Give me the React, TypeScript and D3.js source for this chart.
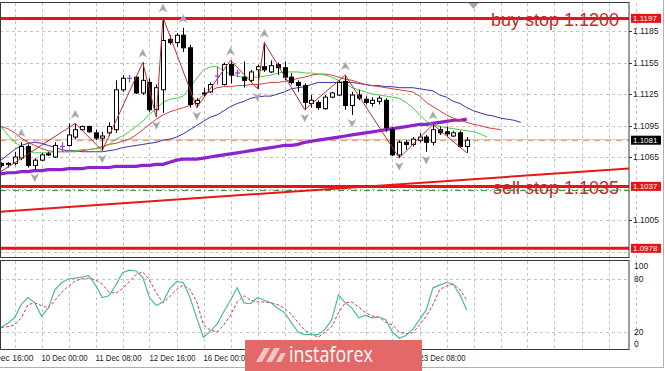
import React from 'react';
import * as d3 from 'd3';

// EURUSD H4 candles (bar 0 = leftmost visible bar)
const opens = [1.1059, 1.1059, 1.1059, 1.1064, 1.1075, 1.1057, 1.1062, 1.1068, 1.1065, 1.1075, 1.1076, 1.1084, 1.1091, 1.1094, 1.1088, 1.1083, 1.1088, 1.1091, 1.1129, 1.1140, 1.1141, 1.1126, 1.1136, 1.1110, 1.1129, 1.1177, 1.1174, 1.1181, 1.1169, 1.1116, 1.1125, 1.1127, 1.1142, 1.1134, 1.1153, 1.1145, 1.1141, 1.1138, 1.1148, 1.1151, 1.1146, 1.1153, 1.1150, 1.1141, 1.1136, 1.1133, 1.1116, 1.1117, 1.1111, 1.1122, 1.1124, 1.1137, 1.1114, 1.1124, 1.1120, 1.1116, 1.1118, 1.1119, 1.1091, 1.1067, 1.1079, 1.1077, 1.1081, 1.1084, 1.1079, 1.1091, 1.1089, 1.1085, 1.1088, 1.1075];
const highs = [1.1060, 1.1060, 1.1070, 1.1079, 1.1077, 1.1064, 1.1069, 1.1070, 1.1079, 1.1079, 1.1097, 1.1097, 1.1095, 1.1095, 1.1091, 1.1089, 1.1098, 1.1138, 1.1143, 1.1143, 1.1142, 1.1155, 1.1140, 1.1134, 1.1198, 1.1181, 1.1183, 1.1188, 1.1172, 1.1121, 1.1131, 1.1136, 1.1151, 1.1155, 1.1157, 1.1148, 1.1156, 1.1148, 1.1153, 1.1174, 1.1157, 1.1155, 1.1156, 1.1145, 1.1138, 1.1135, 1.1124, 1.1119, 1.1124, 1.1127, 1.1138, 1.1143, 1.1127, 1.1129, 1.1123, 1.1122, 1.1123, 1.1121, 1.1093, 1.1081, 1.1081, 1.1084, 1.1088, 1.1086, 1.1096, 1.1094, 1.1094, 1.1090, 1.1090, 1.1084];
const lows = [1.1055, 1.1055, 1.1057, 1.1062, 1.1055, 1.1053, 1.1061, 1.1066, 1.1064, 1.1070, 1.1075, 1.1082, 1.1090, 1.1088, 1.1081, 1.1071, 1.1085, 1.1088, 1.1127, 1.1136, 1.1125, 1.1124, 1.1108, 1.1103, 1.1107, 1.1172, 1.1170, 1.1165, 1.1112, 1.1112, 1.1122, 1.1126, 1.1134, 1.1133, 1.1135, 1.1141, 1.1131, 1.1136, 1.1130, 1.1146, 1.1145, 1.1143, 1.1138, 1.1134, 1.1127, 1.1110, 1.1112, 1.1110, 1.1110, 1.1121, 1.1123, 1.1110, 1.1105, 1.1119, 1.1115, 1.1113, 1.1115, 1.1089, 1.1066, 1.1064, 1.1072, 1.1075, 1.1079, 1.1070, 1.1076, 1.1086, 1.1085, 1.1084, 1.1074, 1.1069];
const closes = [1.1057, 1.1058, 1.1065, 1.1075, 1.1057, 1.1062, 1.1067, 1.1067, 1.1076, 1.1075, 1.1086, 1.1091, 1.1094, 1.1089, 1.1083, 1.1085, 1.1094, 1.1129, 1.1140, 1.1140, 1.1126, 1.1138, 1.1110, 1.1131, 1.1176, 1.1174, 1.1181, 1.1169, 1.1115, 1.1119, 1.1126, 1.1134, 1.1142, 1.1153, 1.1143, 1.1145, 1.1138, 1.1146, 1.1151, 1.1148, 1.1152, 1.1150, 1.1141, 1.1136, 1.1133, 1.1117, 1.1119, 1.1112, 1.1122, 1.1126, 1.1136, 1.1114, 1.1124, 1.1121, 1.1117, 1.1119, 1.1121, 1.1093, 1.1067, 1.1079, 1.1077, 1.1082, 1.1084, 1.1079, 1.1091, 1.1088, 1.1087, 1.1088, 1.1075, 1.1081];

// Alligator (already shifted forward: jaw 8, teeth 5, lips 3)
const jaw = [1.1062, 1.1067, 1.1072, 1.1076, 1.1078, 1.1079, 1.1078, 1.1076, 1.1074, 1.1072, 1.1071, 1.1071, 1.1070, 1.1070, 1.1070, 1.1070, 1.1071, 1.1072, 1.1074, 1.1075, 1.1076, 1.1077, 1.1078, 1.1079, 1.1081, 1.1082, 1.1084, 1.1087, 1.1091, 1.1095, 1.1099, 1.1103, 1.1105, 1.1109, 1.1113, 1.1116, 1.1118, 1.1121, 1.1122, 1.1123, 1.1123, 1.1125, 1.1127, 1.1130, 1.1131, 1.1132, 1.1134, 1.1136, 1.1136, 1.1136, 1.1136, 1.1136, 1.1136, 1.1135, 1.1134, 1.1133, 1.1133, 1.1132, 1.1132, 1.1131, 1.1131, 1.1131, 1.1130, 1.1129, 1.1128, 1.1124, 1.1122, 1.1118, 1.1116, 1.1112, 1.1109, 1.1107, 1.1105, 1.1104, 1.1102, 1.1101, 1.1100, 1.1098];
const teeth = [1.1094, 1.1092, 1.1088, 1.1083, 1.1079, 1.1076, 1.1073, 1.1071, 1.1070, 1.1070, 1.1070, 1.1070, 1.1071, 1.1072, 1.1073, 1.1075, 1.1077, 1.1078, 1.1080, 1.1082, 1.1086, 1.1091, 1.1096, 1.1101, 1.1105, 1.1108, 1.1110, 1.1112, 1.1114, 1.1118, 1.1124, 1.1128, 1.1131, 1.1132, 1.1132, 1.1133, 1.1133, 1.1134, 1.1134, 1.1135, 1.1136, 1.1136, 1.1137, 1.1138, 1.1140, 1.1141, 1.1143, 1.1144, 1.1144, 1.1143, 1.1141, 1.1139, 1.1138, 1.1136, 1.1134, 1.1133, 1.1132, 1.1131, 1.1130, 1.1129, 1.1128, 1.1127, 1.1123, 1.1117, 1.1113, 1.1109, 1.1105, 1.1102, 1.1100, 1.1098, 1.1096, 1.1095, 1.1093, 1.1092, 1.1091];
const lips = [1.1094, 1.1086, 1.1079, 1.1075, 1.1071, 1.1069, 1.1069, 1.1069, 1.1070, 1.1070, 1.1070, 1.1071, 1.1072, 1.1072, 1.1073, 1.1074, 1.1077, 1.1082, 1.1085, 1.1089, 1.1094, 1.1099, 1.1106, 1.1111, 1.1117, 1.1120, 1.1121, 1.1123, 1.1131, 1.1140, 1.1148, 1.1151, 1.1151, 1.1147, 1.1144, 1.1142, 1.1141, 1.1141, 1.1141, 1.1142, 1.1143, 1.1145, 1.1146, 1.1146, 1.1146, 1.1145, 1.1145, 1.1144, 1.1143, 1.1141, 1.1138, 1.1135, 1.1131, 1.1129, 1.1127, 1.1125, 1.1124, 1.1123, 1.1122, 1.1121, 1.1117, 1.1112, 1.1105, 1.1099, 1.1096, 1.1094, 1.1093, 1.1092, 1.1091, 1.1090, 1.1089, 1.1087, 1.1084];
// slow moving average (thick purple)
const slowMa = [1.1049, 1.1050, 1.1050, 1.1051, 1.1051, 1.1052, 1.1052, 1.1053, 1.1053, 1.1053, 1.1054, 1.1054, 1.1054, 1.1055, 1.1055, 1.1055, 1.1055, 1.1056, 1.1056, 1.1056, 1.1056, 1.1057, 1.1057, 1.1058, 1.1058, 1.1060, 1.1062, 1.1063, 1.1063, 1.1063, 1.1064, 1.1065, 1.1066, 1.1067, 1.1068, 1.1069, 1.1070, 1.1071, 1.1072, 1.1073, 1.1074, 1.1075, 1.1076, 1.1076, 1.1077, 1.1079, 1.1080, 1.1081, 1.1082, 1.1083, 1.1084, 1.1085, 1.1086, 1.1087, 1.1088, 1.1089, 1.1090, 1.1091, 1.1092, 1.1093, 1.1094, 1.1095, 1.1096, 1.1096, 1.1097, 1.1098, 1.1099, 1.1100, 1.1100, 1.1101];

const zigzagBars = [-1, 11, 15, 21, 23, 24, 29, 34, 38, 39, 45, 51, 59, 64, 69];
const zigzagPrices = [1.1047, 1.1097, 1.1071, 1.1155, 1.1103, 1.1198, 1.1112, 1.1157, 1.1130, 1.1174, 1.1110, 1.1143, 1.1064, 1.1096, 1.1069];
const fractalUp = [3, 11, 21, 24, 27, 34, 39, 51, 64];
const fractalDown = [5, 15, 23, 29, 38, 45, 52, 59, 63];

const stochMain = [25, 30, 36, 51, 59, 53, 38, 47, 68, 76, 80, 81, 82, 84, 73, 59, 61, 73, 87, 90, 89, 82, 59, 50, 54, 69, 77, 76, 59, 36, 14, 21, 29, 43, 56, 70, 53, 52, 59, 56, 53, 47, 42, 31, 20, 17, 17, 17, 23, 34, 62, 53, 47, 36, 39, 36, 37, 34, 20, 13, 16, 23, 34, 45, 70, 73, 76, 74, 62, 45];
const stochSignal = [25, 26, 28, 36, 51, 53, 50, 47, 56, 65, 72, 78, 80, 81, 79, 74, 65, 64, 69, 77, 85, 88, 79, 64, 53, 60, 68, 73, 68, 54, 28, 22, 20, 28, 39, 54, 61, 56, 54, 54, 53, 51, 47, 40, 31, 22, 18, 14, 20, 26, 42, 53, 54, 48, 42, 38, 37, 31, 28, 20, 18, 19, 28, 38, 51, 68, 72, 74, 68, 56];

const levelPrices = [1.1197, 1.1037, 1.0978];
const orderTexts = ['buy stop 1.1200', 'sell stop 1.1035'];
const orderTextPrices = [1.1197, 1.1037];
const pendingLine = 1.1033;
const bidPrice = 1.1081;
const trendBars = [0, 93];
const trendPrices = [1.1013, 1.1054];

const priceTicks = [1.1185, 1.1155, 1.1125, 1.1095, 1.1065, 1.1035, 1.1005, 1.0975];
const stochTicks = [100, 80, 20, 0];
// labels under the watermark (17, 18, 20 Dec) are not visible in the picture
const timeBars = [-2, 6, 14, 22, 30, 62];
const timeLabels = ['6 Dec 16:00', '10 Dec 00:00', '11 Dec 08:00', '12 Dec 16:00', '16 Dec 00:00', '23 Dec 08:00'];

const RIGHT = 629;
const MAIN_T = 3, MAIN_B = 258;
const IND_T = 261, IND_B = 350;
const FONT = 'Liberation Sans, Arial, sans-serif';

export default function App() {
  const x = d3.scaleLinear().domain([0, 69]).range([1, 466.75]);
  const y = d3.scaleLinear().domain([1.1185, 1.0975]).range([31, 251.5]);
  const ys = d3.scaleLinear().domain([0, 100]).range([349.7, 261.3]);

  const priceLine = d3.line<number>().x((_, i) => x(i)).y(d => y(d));
  const stochLine = d3.line<number>().x((_, i) => x(i)).y(d => ys(d));
  const zz = d3.line<number>().x(i => x(zigzagBars[i])).y(i => y(zigzagPrices[i]));

  const trendSlope = (trendPrices[1] - trendPrices[0]) / (trendBars[1] - trendBars[0]);
  const trendAt = (b: number) => trendPrices[0] + (b - trendBars[0]) * trendSlope;

  const gridBars = d3.range(-2, 95, 4);
  const crisp = (v: number) => Math.round(v) + 0.5;

  return (
    <svg width={665} height={371} style={{ position: 'absolute', left: 0, top: 0, background: '#fff' }}>
      <defs>
        <clipPath id="mainClip"><rect x={0} y={MAIN_T} width={RIGHT} height={MAIN_B - MAIN_T} /></clipPath>
        <clipPath id="indClip"><rect x={0} y={IND_T} width={RIGHT} height={IND_B - IND_T} /></clipPath>
        <clipPath id="axisClip"><rect x={RIGHT} y={0} width={40} height={MAIN_B} /></clipPath>
      </defs>

      {/* grid */}
      <g stroke="#c4c4c4" strokeDasharray="3,3" strokeWidth={1}>
        {gridBars.map(b => (
          <g key={b}>
            <line x1={crisp(x(b))} x2={crisp(x(b))} y1={MAIN_T} y2={MAIN_B} />
            <line x1={crisp(x(b))} x2={crisp(x(b))} y1={IND_T} y2={IND_B} />
          </g>
        ))}
        {priceTicks.map(p => <line key={p} x1={0} x2={RIGHT} y1={crisp(y(p))} y2={crisp(y(p))} />)}
        {[80, 20].map(v => <line key={v} x1={0} x2={RIGHT} y1={crisp(ys(v))} y2={crisp(ys(v))} />)}
      </g>

      <g clipPath="url(#mainClip)">
        {/* bid line */}
        <line x1={0} x2={RIGHT} y1={crisp(y(bidPrice)) - 1} y2={crisp(y(bidPrice)) - 1} stroke="#c8c8d8" />
        <line x1={0} x2={RIGHT} y1={crisp(y(bidPrice))} y2={crisp(y(bidPrice))} stroke="#f0a480" strokeWidth={1.3} strokeDasharray="6,5" />

        {/* horizontal order levels */}
        {levelPrices.map(p => (
          <line key={p} x1={0} x2={RIGHT} y1={y(p)} y2={y(p)} stroke="#ee1111" strokeWidth={3} />
        ))}
        <line x1={0} x2={RIGHT} y1={y(pendingLine)} y2={y(pendingLine)} stroke="#2e8b2e" strokeWidth={1} strokeDasharray="6,3,1,3" />
        <line x1={x(-2)} x2={x(96)} y1={y(trendAt(-2))} y2={y(trendAt(96))} stroke="#e81818" strokeWidth={2} />

        {/* slow MA */}
        <path d={priceLine(slowMa) || ''} fill="none" stroke="#8e22cc" strokeWidth={3.2} />

        {/* alligator */}
        <path d={priceLine(jaw) || ''} fill="none" stroke="#3434aa" strokeWidth={1} />
        <path d={priceLine(teeth) || ''} fill="none" stroke="#d83c3c" strokeWidth={1} />
        <path d={priceLine(lips) || ''} fill="none" stroke="#44d044" strokeWidth={1} />

        {/* candles */}
        {opens.map((o, i) => {
          const c = closes[i];
          const cx = crisp(x(i));
          const top = y(Math.max(o, c));
          const bot = y(Math.min(o, c));
          if (o === c) {
            return (
              <g key={i} stroke="#9a3fc0" strokeWidth={1.2}>
                <line x1={cx} x2={cx} y1={y(highs[i])} y2={y(lows[i])} />
                <line x1={cx - 2.5} x2={cx + 2.5} y1={top} y2={top} />
              </g>
            );
          }
          const up = c > o;
          return (
            <g key={i}>
              <line x1={cx} x2={cx} y1={y(highs[i])} y2={y(lows[i])} stroke="#000" />
              <rect x={cx - 2} y={top} width={4} height={Math.max(1, bot - top)}
                fill={up ? '#fff' : '#000'} stroke="#000" strokeWidth={1} />
            </g>
          );
        })}

        {/* zigzag */}
        <path d={zz(d3.range(zigzagBars.length)) || ''} fill="none" stroke="#b8302e" strokeWidth={1} />

        {/* fractals */}
        {fractalUp.map(b => (
          <path key={'u' + b} transform={`translate(${x(b)},${y(highs[b]) - 9})`}
            d="M0,-4.5 L4.2,3.8 L0,1.6 L-4.2,3.8 Z" fill="#a4a4a4" stroke="#d0d0d0" strokeWidth={0.5} />
        ))}
        {fractalDown.map(b => (
          <path key={'d' + b} transform={`translate(${x(b)},${y(lows[b]) + 8})`}
            d="M0,4.5 L4.2,-3.8 L0,-1.6 L-4.2,-3.8 Z" fill="#a4a4a4" stroke="#d0d0d0" strokeWidth={0.5} />
        ))}

        {/* order text labels */}
        {orderTexts.map((t, i) => (
          <text key={t} x={619} y={y(orderTextPrices[i]) + 7.6} textAnchor="end" fontFamily={FONT}
            fontSize={18} fill="#c8282c">{t}</text>
        ))}

        {/* chart shift marker */}
        <path d={`M${x(70) - 5},${MAIN_T} L${x(70) + 5},${MAIN_T} L${x(70)},${MAIN_T + 6} Z`} fill="#a8a8a8" />
      </g>

      {/* stochastic */}
      <g clipPath="url(#indClip)">
        <path d={stochLine(stochSignal) || ''} fill="none" stroke="#e03434" strokeWidth={1} strokeDasharray="3,2" />
        <path d={stochLine(stochMain) || ''} fill="none" stroke="#4bb8a8" strokeWidth={1.2} />
      </g>

      {/* frames */}
      <rect x={0.5} y={MAIN_T - 0.5} width={RIGHT - 0.5} height={MAIN_B - MAIN_T} fill="none" stroke="#3a3a3a" />
      <rect x={0.5} y={IND_T - 0.5} width={RIGHT - 0.5} height={IND_B - IND_T} fill="none" stroke="#3a3a3a" />
      <line x1={0} x2={664} y1={367.5} y2={367.5} stroke="#b0b0b0" />
      <line x1={663.5} x2={663.5} y1={0} y2={368} stroke="#b0b0b0" />

      {/* price axis */}
      <g clipPath="url(#axisClip)" fontFamily={FONT} fontSize={8.5} fill="#222">
        {priceTicks.filter(p => !levelPrices.some(l => Math.abs(y(l) - y(p)) < 5)).map(p => (
          <g key={p}>
            <line x1={RIGHT} x2={RIGHT + 3} y1={crisp(y(p))} y2={crisp(y(p))} stroke="#333" />
            <text x={633} y={y(p) + 3}>{p.toFixed(4)}</text>
          </g>
        ))}
        {levelPrices.map(p => (
          <g key={p}>
            <rect x={631} y={y(p) - 4.5} width={30} height={9} fill="#ee1111" />
            <text x={633} y={y(p) + 3} fill="#fff" fontSize={8}>{p.toFixed(4)}</text>
          </g>
        ))}
        <rect x={631} y={y(bidPrice) - 4.5} width={30} height={9} fill="#000" />
        <text x={633} y={y(bidPrice) + 3} fill="#fff" fontSize={8}>{bidPrice.toFixed(4)}</text>
      </g>

      {/* stochastic axis */}
      <g fontFamily={FONT} fontSize={8.5} fill="#222">
        {stochTicks.map(v => {
          const ty = Math.min(344, Math.max(266, ys(v)));
          return <text key={v} x={634} y={ty + 3}>{v}</text>;
        })}
      </g>

      {/* time axis */}
      <g fontFamily={FONT} fontSize={8.5} fill="#222">
        {timeBars.map((b, i) => (
          <text key={b} x={x(b)} y={361} textLength={46} lengthAdjust="spacingAndGlyphs">{timeLabels[i]}</text>
        ))}
      </g>

      {/* watermark */}
      <g>
        <rect x={245} y={340} width={177} height={31} fill="#e36868" />
        <g fill="#f2d6d6" opacity={0.85}>
          <path d="M256,362 l8,-14 h6 l-8,14 z" />
          <path d="M266,362 l8,-14 h6 l-8,14 z" />
          <path d="M276,362 l5,-9 h5 l-5,9 z" />
        </g>
        <text x={289} y={362} fontFamily="Open Sans, Roboto, sans-serif" fontSize={21} fill="#fff"
          textLength={84} lengthAdjust="spacingAndGlyphs">instaforex</text>
      </g>
    </svg>
  );
}
